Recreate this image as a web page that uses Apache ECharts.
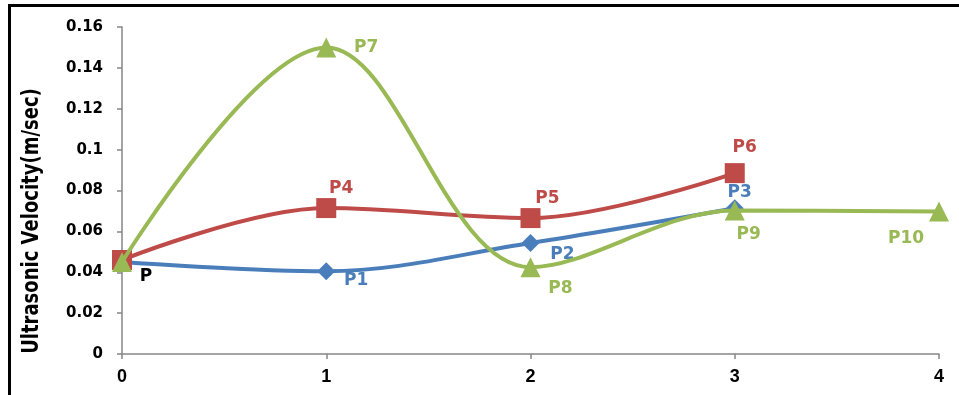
<!DOCTYPE html>
<html>
<head>
<meta charset="utf-8">
<script src="https://cdn.jsdelivr.net/npm/echarts@6/dist/echarts.min.js"></script>
<style>
html,body{margin:0;padding:0;background:#fff;}
#c{width:959px;height:395px;}
</style>
</head>
<body>
<div id="c"></div>
<script>
// ---- data ----
var yAxisTitle = 'Ultrasonic Velocity(m/sec)';
var blueX = [0, 1, 2, 3];
var blueY = [0.045, 0.0405, 0.0543, 0.0713];
var blueNames = ['P', 'P1', 'P2', 'P3'];
var redX = [0, 1, 2, 3];
var redY = [0.046, 0.0714, 0.0665, 0.0885];
var redNames = ['', 'P4', 'P5', 'P6'];
var greenX = [0, 1, 2, 3, 4];
var greenY = [0.045, 0.150, 0.0425, 0.0702, 0.0697];
var greenNames = ['', 'P7', 'P8', 'P9', 'P10'];

// ---- styles (label offsets relative to marker centre) ----
var blueOffsets = [[24, 15], [30, 9], [32, 12], [5, -16]];
var blueLabelColors = ['#000000', null, null, null];
var redOffsets = [[0, 0], [15, -19], [17, -20], [10, -26]];
var greenOffsets = [[0, 0], [40, 0], [30, 21], [14, 24], [-33, 27]];

var COL_BLUE = '#4A7EBB', COL_RED = '#BE4B48', COL_GREEN = '#98B954';

function build(xs, ys, names, offsets, color, labelColors) {
  return xs.map(function (x, i) {
    var item = { value: [x, ys[i]] };
    if (names[i]) {
      item.label = {
        show: true,
        formatter: names[i],
        position: 'inside',
        offset: offsets[i],
        color: (labelColors && labelColors[i]) || color
      };
    }
    return item;
  });
}

var labelBase = {
  show: false,
  fontFamily: 'DejaVu Sans',
  fontWeight: 'bold',
  fontSize: 17,
  align: 'center',
  verticalAlign: 'middle'
};

var chart = echarts.init(document.getElementById('c'), null, { renderer: 'canvas' });
chart.setOption({
  animation: false,
  backgroundColor: '#ffffff',
  grid: { left: 122, right: 20, top: 27, bottom: 41, containLabel: false },
  graphic: [
    { type: 'rect', shape: { x: 8, y: 4, width: 951, height: 3 }, style: { fill: '#000' }, silent: true },
    { type: 'rect', shape: { x: 8, y: 4, width: 3, height: 391 }, style: { fill: '#000' }, silent: true },
    {
      type: 'text',
      rotation: Math.PI / 2,
      x: 32, y: 221,
      scaleY: 1.3,
      style: {
        text: yAxisTitle,
        fontFamily: 'DejaVu Sans', fontWeight: 'bold', fontSize: 18,
        fill: '#000', align: 'center', verticalAlign: 'middle'
      },
      silent: true
    }
  ],
  xAxis: {
    type: 'value', min: 0, max: 4, interval: 1,
    axisLine: { show: true, lineStyle: { color: '#868686', width: 1.5 } },
    axisTick: { show: true, length: 5, lineStyle: { color: '#868686', width: 1.5 } },
    splitLine: { show: false },
    axisLabel: { margin: 14, color: '#000', fontFamily: 'Liberation Sans', fontWeight: 'bold', fontSize: 18 }
  },
  yAxis: {
    type: 'value', min: 0, max: 0.16, interval: 0.02,
    axisLine: { show: true, lineStyle: { color: '#868686', width: 1.5 } },
    axisTick: { show: true, length: 5, lineStyle: { color: '#868686', width: 1.5 } },
    splitLine: { show: false },
    axisLabel: {
      margin: 19, color: '#000', fontFamily: 'DejaVu Sans', fontWeight: 'bold', fontSize: 15,
      formatter: function (v) { return String(+v.toFixed(2)); }
    }
  },
  series: [
    {
      type: 'line', smooth: 0.35, z: 2,
      data: build(blueX, blueY, blueNames, blueOffsets, COL_BLUE, blueLabelColors),
      symbol: 'diamond', symbolSize: 18,
      lineStyle: { color: COL_BLUE, width: 4 },
      itemStyle: { color: COL_BLUE },
      label: labelBase
    },
    {
      type: 'line', smooth: 0.35, z: 3,
      data: build(redX, redY, redNames, redOffsets, COL_RED),
      symbol: 'rect', symbolSize: 20,
      lineStyle: { color: COL_RED, width: 4 },
      itemStyle: { color: COL_RED },
      label: labelBase
    },
    {
      type: 'line', smooth: 0.35, z: 4,
      data: build(greenX, greenY, greenNames, greenOffsets, COL_GREEN),
      symbol: 'triangle', symbolSize: 20,
      lineStyle: { color: COL_GREEN, width: 4 },
      itemStyle: { color: COL_GREEN },
      label: labelBase
    }
  ]
});
</script>
</body>
</html>
